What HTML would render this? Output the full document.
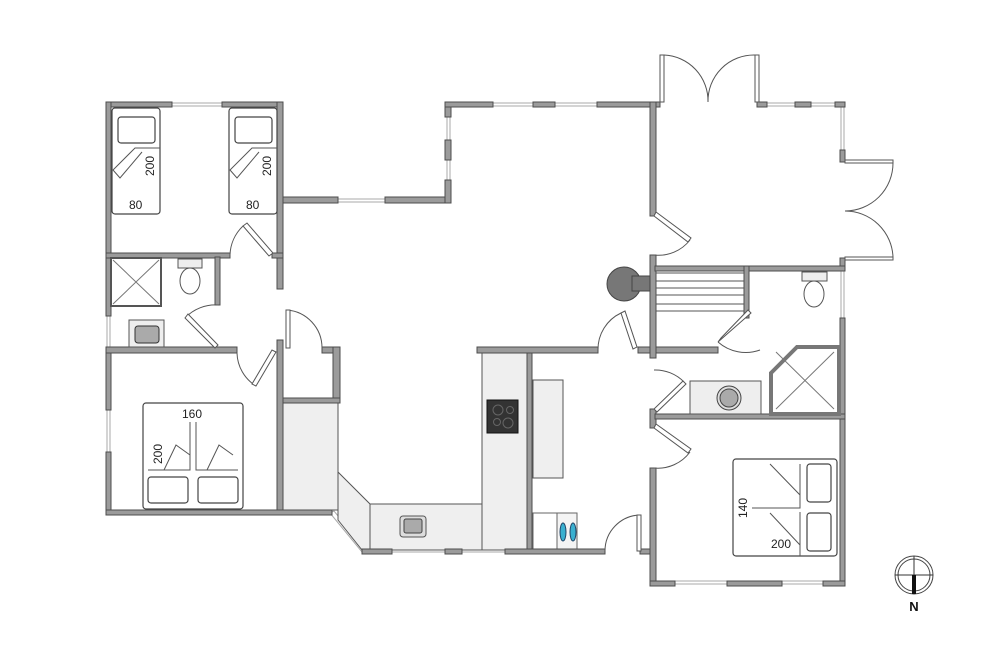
<!DOCTYPE html>
<html><head><meta charset="utf-8"><style>
html,body{margin:0;padding:0;background:#fff;}
svg{display:block;font-family:"Liberation Sans",sans-serif;}
.w{fill:#9b9b9b;stroke:#4d4d4d;stroke-width:1;}
.win{fill:#fff;stroke:#aaa;stroke-width:1;}
.d{fill:none;stroke:#555;stroke-width:1;}
.leaf{fill:#fff;stroke:#555;stroke-width:1;}
.f{fill:#efefef;stroke:#555;stroke-width:1;}
.b{fill:#fff;stroke:#444;stroke-width:1.2;}
.t{font-size:12px;fill:#222;}
</style></head><body>
<svg width="1000" height="667" viewBox="0 0 1000 667" xmlns="http://www.w3.org/2000/svg">
<!-- windows (under walls) -->
<rect class="win" x="170" y="103" width="55" height="3"/>
<rect class="win" x="107" y="314" width="3" height="36"/>
<rect class="win" x="107" y="408" width="3" height="45"/>
<rect class="win" x="335" y="199" width="52" height="3"/>
<rect class="win" x="447" y="115" width="3" height="68"/>
<rect class="win" x="490" y="103" width="110" height="3"/>
<rect class="win" x="765" y="103" width="75" height="3"/>
<rect class="win" x="841" y="103" width="3" height="50"/>
<rect class="win" x="841" y="265" width="3" height="55"/>
<rect class="win" x="670" y="581" width="165" height="3"/>
<rect class="win" x="390" y="549" width="120" height="3"/>
<polygon class="win" points="330,513 334,511 366,550 362,552"/>

<!-- kitchen furniture -->
<rect class="f" x="283" y="403" width="55" height="107"/>
<polygon class="f" points="338,472 370,504 370,550 362,550 338,520"/>
<rect class="f" x="370" y="504" width="112" height="46"/>
<rect class="f" x="482" y="353" width="45" height="197"/>
<rect class="f" x="533" y="380" width="30" height="98"/>
<rect x="487" y="400" width="31" height="33" fill="#333" stroke="#111"/>
<circle cx="498" cy="410" r="5" fill="none" stroke="#666"/><circle cx="510" cy="410" r="3.5" fill="none" stroke="#666"/>
<circle cx="497" cy="422" r="3.5" fill="none" stroke="#666"/><circle cx="508" cy="423" r="5" fill="none" stroke="#666"/>
<rect x="400" y="516" width="26" height="21" rx="3" fill="#ddd" stroke="#555"/>
<rect x="404" y="519" width="18" height="14" rx="2" fill="#aaa" stroke="#444"/>
<rect x="533" y="513" width="28" height="38" fill="#fff" stroke="#666"/>
<rect x="557" y="513" width="20" height="38" fill="#f4f4f4" stroke="#666"/>
<ellipse cx="563" cy="532" rx="3" ry="9" fill="#3ab0d0" stroke="#246"/>
<ellipse cx="573" cy="532" rx="3" ry="9" fill="#3ab0d0" stroke="#246"/>

<!-- walls left block -->
<rect class="w" x="106" y="102" width="66" height="5"/>
<rect class="w" x="222" y="102" width="61" height="5"/>
<rect class="w" x="106" y="102" width="5" height="214"/>
<rect class="w" x="106" y="347" width="5" height="63"/>
<rect class="w" x="106" y="452" width="5" height="62"/>
<rect class="w" x="277" y="102" width="6" height="187"/>
<rect class="w" x="283" y="197" width="55" height="6"/>
<rect class="w" x="385" y="197" width="66" height="6"/>
<rect class="w" x="445" y="102" width="6" height="15"/>
<rect class="w" x="445" y="140" width="6" height="20"/>
<rect class="w" x="445" y="180" width="6" height="23"/>
<rect class="w" x="445" y="102" width="48" height="5"/>
<rect class="w" x="533" y="102" width="22" height="5"/>
<rect class="w" x="597" y="102" width="63" height="5"/>
<rect class="w" x="106" y="253" width="124" height="5"/>
<rect class="w" x="272" y="253" width="11" height="5"/>
<rect class="w" x="215" y="257" width="5" height="48"/>
<rect class="w" x="106" y="347" width="131" height="6"/>
<rect class="w" x="277" y="340" width="6" height="175"/>
<rect class="w" x="322" y="347" width="18" height="6"/>
<rect class="w" x="333" y="347" width="7" height="56"/>
<rect class="w" x="283" y="398" width="57" height="5"/>
<rect class="w" x="106" y="510" width="226" height="5"/>
<!-- kitchen walls -->
<rect class="w" x="477" y="347" width="121" height="6"/>
<rect class="w" x="638" y="347" width="80" height="6"/>
<rect class="w" x="527" y="353" width="5" height="200"/>
<rect class="w" x="362" y="549" width="30" height="5"/>
<rect class="w" x="445" y="549" width="17" height="5"/>
<rect class="w" x="505" y="549" width="100" height="5"/>
<rect class="w" x="640" y="549" width="12" height="5"/>
<!-- right block -->
<rect class="w" x="650" y="102" width="6" height="114"/>
<rect class="w" x="650" y="255" width="6" height="103"/>
<rect class="w" x="650" y="409" width="6" height="19"/>
<rect class="w" x="650" y="468" width="6" height="118"/>
<rect class="w" x="757" y="102" width="10" height="5"/>
<rect class="w" x="795" y="102" width="16" height="5"/>
<rect class="w" x="835" y="102" width="10" height="5"/>
<rect class="w" x="840" y="150" width="5" height="12"/>
<rect class="w" x="840" y="258" width="5" height="9"/>
<rect class="w" x="840" y="318" width="5" height="268"/>
<rect class="w" x="655" y="266" width="190" height="5"/>
<rect class="w" x="744" y="266" width="5" height="52"/>
<rect class="w" x="655" y="414" width="190" height="5"/>
<rect class="w" x="650" y="581" width="25" height="5"/>
<rect class="w" x="727" y="581" width="55" height="5"/>
<rect class="w" x="823" y="581" width="22" height="5"/>

<!-- stairs -->
<g stroke="#555" fill="none"><path d="M656 273H744M656 281H744M656 288H744M656 295H744M656 304H744M656 311H744"/></g>
<!-- chimney -->
<circle cx="624" cy="284" r="17" fill="#777" stroke="#444"/>
<rect x="632" y="276" width="18" height="15" fill="#777" stroke="#444"/>

<!-- bathroom left -->
<rect x="111" y="258" width="50" height="48" fill="#fff" stroke="#555" stroke-width="2"/>
<path d="M113 260L159 304M159 260L113 304" stroke="#777"/>
<rect x="178" y="259" width="24" height="9" fill="#eee" stroke="#555"/>
<ellipse cx="190" cy="281" rx="10" ry="13" fill="#fff" stroke="#555"/>
<rect x="129" y="320" width="35" height="27" fill="#eee" stroke="#555"/>
<rect x="135" y="326" width="24" height="17" rx="3" fill="#aaa" stroke="#333"/>
<!-- bathroom right -->
<polygon points="771,373 797,347 839,347 839,414 771,414" fill="#fff" stroke="#777" stroke-width="4"/>
<path d="M776 409L834 352M776 352L834 409" stroke="#777"/>
<rect x="690" y="381" width="71" height="33" fill="#eee" stroke="#555"/>
<circle cx="729" cy="398" r="12" fill="#ddd" stroke="#444"/>
<circle cx="729" cy="398" r="9" fill="#aaa" stroke="#444"/>
<rect x="802" y="272" width="25" height="9" fill="#eee" stroke="#555"/>
<ellipse cx="814" cy="294" rx="10" ry="13" fill="#fff" stroke="#555"/>

<!-- beds top-left -->
<g>
<rect class="b" x="112" y="108" width="48" height="106" rx="3"/>
<rect class="b" x="118" y="117" width="37" height="26" rx="3"/>
<path class="d" d="M160 148H135L113 170L120 178L142 152"/>
<text class="t" transform="translate(154,176) rotate(-90)">200</text>
<text class="t" x="129" y="209">80</text>
<rect class="b" x="229" y="108" width="48" height="106" rx="3"/>
<rect class="b" x="235" y="117" width="37" height="26" rx="3"/>
<path class="d" d="M277 148H252L230 170L237 178L259 152"/>
<text class="t" transform="translate(271,176) rotate(-90)">200</text>
<text class="t" x="246" y="209">80</text>
</g>
<!-- bed bottom-left -->
<rect class="b" x="143" y="403" width="100" height="106" rx="3"/>
<rect class="b" x="148" y="477" width="40" height="26" rx="3"/>
<rect class="b" x="198" y="477" width="40" height="26" rx="3"/>
<path class="d" d="M190 422V470H148M196 422V470H238"/>
<path class="d" d="M164 470L176 445L190 455M207 470L219 445L233 455"/>
<text class="t" x="182" y="418">160</text>
<text class="t" transform="translate(162,464) rotate(-90)">200</text>
<!-- bed right -->
<rect class="b" x="733" y="459" width="104" height="97" rx="3"/>
<rect class="b" x="807" y="464" width="24" height="38" rx="3"/>
<rect class="b" x="807" y="513" width="24" height="38" rx="3"/>
<path class="d" d="M800 464V508H752M800 512V556"/>
<path class="d" d="M770 464L800 495M770 513L800 545"/>
<text class="t" transform="translate(747,518) rotate(-90)">140</text>
<text class="t" x="771" y="548">200</text>

<!-- doors -->
<g>
<!-- bedroom top door -->
<path class="d" d="M230 255A42 42 0 0 1 243 226"/><polygon class="leaf" points="243,226 247,223 273,253 269,256"/>
<!-- bath door -->
<path class="d" d="M218 305A42 42 0 0 0 185 318"/><polygon class="leaf" points="185,318 188,314 218,345 215,348"/>
<!-- bedroom bottom door -->
<path class="d" d="M237 353A40 40 0 0 0 256 386"/><polygon class="leaf" points="256,386 252,384 272,350 276,352"/>
<!-- closet door -->
<path class="d" d="M322 348A38 38 0 0 0 287 310"/><rect class="leaf" x="286" y="310" width="4" height="38"/>
<!-- kitchen bottom door -->
<path class="d" d="M605 551A36 36 0 0 1 640 515"/><rect class="leaf" x="637" y="515" width="4" height="36"/>
<!-- hall door near chimney -->
<path class="d" d="M598 350A40 40 0 0 1 621 313"/><polygon class="leaf" points="621,313 625,311 637,347 633,349"/>
<!-- middle wall doors -->
<path class="d" d="M654 255A40 40 0 0 0 690 240"/><polygon class="leaf" points="654,216 656,212 691,238 688,242"/>
<path class="d" d="M654 370A40 40 0 0 1 684 382"/><polygon class="leaf" points="654,409 657,412 686,384 683,381"/>
<path class="d" d="M654 468A40 40 0 0 0 690 452"/><polygon class="leaf" points="654,428 656,424 691,449 688,453"/>
<!-- sauna door -->
<path class="d" d="M718 342A42 42 0 0 0 760 350"/><polygon class="leaf" points="718,342 721,338 748,310 751,313"/>
<!-- top double door -->
<rect class="leaf" x="660" y="55" width="4" height="47"/><rect class="leaf" x="755" y="55" width="4" height="47"/>
<path class="d" d="M664 55A46 46 0 0 1 708 102M755 55A46 46 0 0 0 708 102"/>
<!-- right double door -->
<rect class="leaf" x="845" y="160" width="48" height="3"/><rect class="leaf" x="845" y="257" width="48" height="3"/>
<path class="d" d="M893 163A48 48 0 0 1 845 211M893 257A48 48 0 0 0 845 211"/>
</g>

<!-- compass -->
<circle cx="914" cy="575" r="19" fill="none" stroke="#444"/>
<circle cx="914" cy="575" r="16" fill="none" stroke="#444"/>
<path d="M895 575H933M914 556V594" stroke="#333"/>
<rect x="912" y="575" width="4" height="19" fill="#111"/>
<text x="914" y="611" text-anchor="middle" font-size="13" font-weight="bold" fill="#111">N</text>
</svg>
</body></html>
